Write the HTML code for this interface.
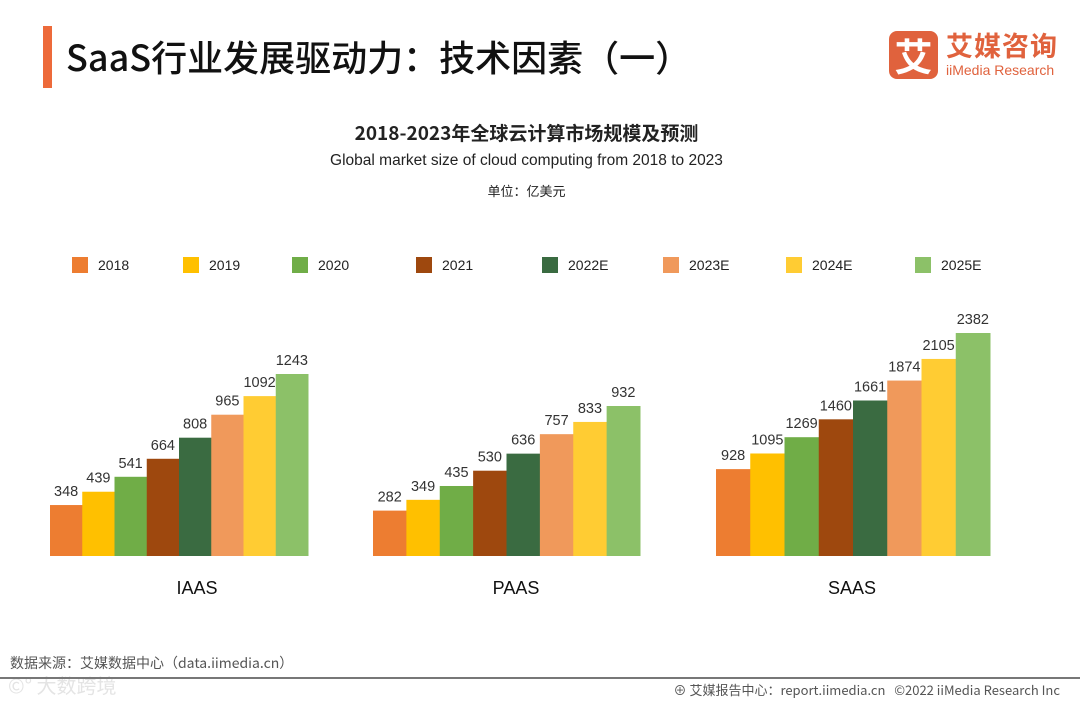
<!DOCTYPE html>
<html><head><meta charset="utf-8">
<style>
body{margin:0;background:#fff;}
#wrap{position:relative;width:1080px;height:702px;overflow:hidden;font-family:"Liberation Sans","Noto Sans CJK SC",sans-serif;}
.abs{position:absolute;white-space:nowrap;}
</style></head><body>
<div id="wrap">
<div class="abs" style="left:43px;top:26px;width:9px;height:62px;background:#ED6A3A"></div>
<div class="abs" style="left:66px;top:30px;font-size:36px;color:#111;font-family:'Noto Sans CJK SC',sans-serif;font-weight:500">SaaS行业发展驱动力：技术因素（一）</div>
<div class="abs" style="left:889px;top:31px;width:49px;height:48px;background:#E0623D;border-radius:8px;color:#fff;font-size:38px;line-height:48px;text-align:center;font-family:'Noto Sans CJK SC',sans-serif;font-weight:bold">艾</div>
<div class="abs" style="left:946px;top:28px;font-size:27px;color:#E0623D;font-family:'Noto Sans CJK SC',sans-serif;font-weight:bold;letter-spacing:1px;line-height:34px">艾媒咨询</div>
<div class="abs" style="left:946px;top:62px;font-size:14px;color:#E0623D;line-height:16px">iiMedia Research</div>
<div class="abs" style="left:0;width:1053px;text-align:center;top:119px;font-size:19px;font-weight:bold;color:#222;font-family:'Noto Sans CJK SC',sans-serif">2018-2023年全球云计算市场规模及预测</div>
<div class="abs" style="left:0;width:1053px;text-align:center;top:152px;font-size:15.5px;color:#222">Global market size of cloud computing from 2018 to 2023</div>
<div class="abs" style="left:0;width:1053px;text-align:center;top:181px;font-size:13px;color:#222;font-family:'Noto Sans CJK SC',sans-serif">单位：亿美元</div>
<svg id="chart" class="abs" style="left:0;top:0" width="1080" height="640"></svg>
<div class="abs" style="left:10px;top:653px;font-size:14px;color:#555;font-family:'Noto Sans CJK SC',sans-serif">数据来源：艾媒数据中心（data.iimedia.cn）</div>
<div class="abs" style="left:8px;top:670px;font-size:20px;color:#e4e4e4;font-family:'Noto Sans CJK SC',sans-serif">©° 大数跨境</div>
<div class="abs" style="left:0;top:677px;width:1080px;height:2px;background:#777"></div>
<div class="abs" style="right:20px;top:680px;font-size:13px;color:#555;font-family:'Noto Sans CJK SC',sans-serif">⊕ 艾媒报告中心：report.iimedia.cn &nbsp;&nbsp;©2022 iiMedia Research Inc</div>
</div>
<script>
const series = ["2018","2019","2020","2021","2022E","2023E","2024E","2025E"];
const categories = ["IAAS","PAAS","SAAS"];
const iaasValues = [348,439,541,664,808,965,1092,1243];
const paasValues = [282,349,435,530,636,757,833,932];
const saasValues = [928,1095,1269,1460,1661,1874,2105,2382];
const colors = ["#ED7D31","#FFC000","#70AD47","#9E480E","#3A6B41","#F0995B","#FFCC33","#8CC168"];
const values = [iaasValues, paasValues, saasValues];
const groupLayout = [{x0:50,x1:308,maxPx:182,lx:197},{x0:373,x1:640,maxPx:150,lx:516},{x0:716,x1:990,maxPx:223,lx:852}];
const baseY = 556;
const NS = "http://www.w3.org/2000/svg";
const svg = document.getElementById('chart');
function mk(t,a){const e=document.createElementNS(NS,t);for(const k in a)e.setAttribute(k,a[k]);svg.appendChild(e);return e;}
const legX=[72,183,292,416,542,663,786,915];
series.forEach((s,i)=>{
  const r=mk('rect',{x:legX[i],y:257,width:16,height:16,fill:colors[i]});
  
  
  const t=mk('text',{x:legX[i]+26,y:270,'font-size':14,fill:'#222','font-family':'Liberation Sans, sans-serif'});
  t.textContent=s;
  
  
});
categories.forEach((c,g)=>{
  const L=groupLayout[g], vals=values[g];
  const vmax=Math.max(...vals);
  const y=v=>baseY - v/vmax*L.maxPx;
  const bw=(L.x1-L.x0)/vals.length;
  vals.forEach((v,i)=>{
    const x=L.x0+i*bw;
    const r=mk('rect',{x:x,y:y(v),width:bw+0.5,height:baseY-y(v),fill:colors[i]});
    
    
    const t=mk('text',{x:x+bw/2,y:y(v)-9,'text-anchor':'middle','font-size':14.5,fill:'#333','font-family':'Liberation Sans, sans-serif'});
    t.textContent=v;
    
    
  });
  const t=mk('text',{x:L.lx,y:594,'text-anchor':'middle','font-size':18,fill:'#111','font-family':'Liberation Sans, sans-serif'});
  t.textContent=c;
  
  
});
</script>
</body></html>
